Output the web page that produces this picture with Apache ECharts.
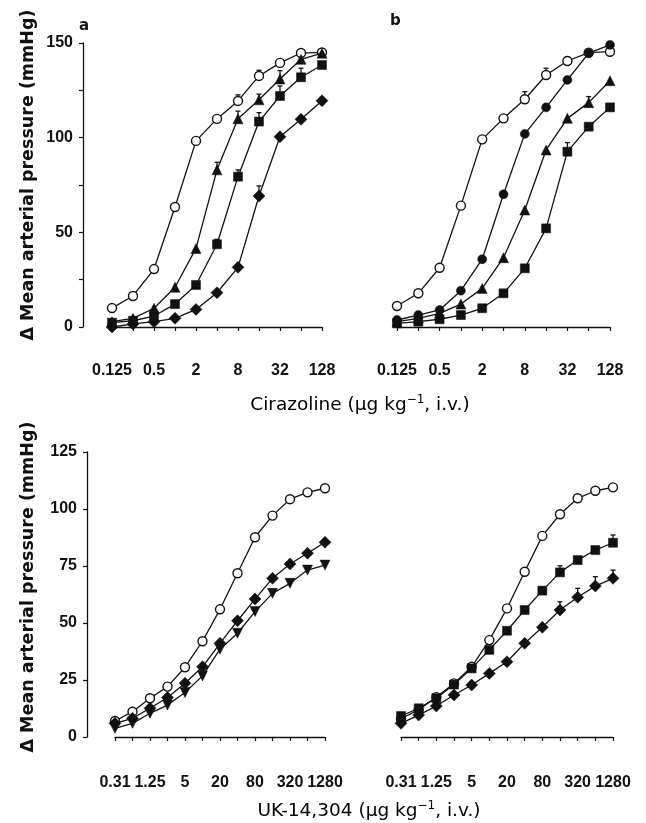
<!DOCTYPE html>
<html>
<head>
<meta charset="utf-8">
<script src="https://cdn.jsdelivr.net/npm/echarts@6/dist/echarts.min.js"></script>
<style>
  html, body { margin: 0; padding: 0; background: #fff; }
  #chart { width: 646px; height: 823px; }
</style>
</head>
<body>
<div id="chart"></div>
<script>
// doses (log2 spaced, shown as categories)
const topDoses = ['0.125', '0.25', '0.5', '1', '2', '4', '8', '16', '32', '64', '128'];
const bottomDoses = ['0.31', '0.63', '1.25', '2.5', '5', '10', '20', '40', '80', '160', '320', '640', '1280'];

// panel a - cirazoline
const aOpen = [10, 16.4, 30.6, 63.4, 98.3, 109.9, 119.4, 132.6, 139.5, 144.7, 145];
const aTriangle = [2.8, 4.6, 9.9, 21, 41.5, 83, 110, 120, 131, 141.4, 144.6];
const aSquare = [2.3, 3.3, 5.8, 12.1, 22.2, 43.7, 79.4, 108.5, 122, 131.9, 138.4];
const aDiamond = [0, 1.6, 2.8, 4.6, 9.3, 18.1, 31.5, 69.2, 100.5, 109.7, 119.5];
const aOpenErr = [0, 0, 0, 0, 0, 0, 3.2, 3, 0, 0, 0];
const aTriangleErr = [0, 0, 0, 0, 0, 4, 4, 3, 4.4, 1.5, 0];
const aSquareErr = [0, 0, 0, 0, 0, 2.6, 3.6, 4.7, 5.3, 4.8, 0];
const aDiamondErr = [0, 0, 0, 0, 0, 0, 0, 5.3, 0, 0, 0];

// panel b - cirazoline
const bOpen = [11.1, 17.8, 31.3, 64.1, 99.1, 110.2, 120.3, 133.1, 140.5, 144.9, 145.4];
const bCircle = [3.7, 6.3, 9, 19.2, 35.8, 70.1, 102, 116, 130.5, 144.6, 149];
const bTriangle = [2.8, 4.6, 7.2, 12.1, 20.4, 36.6, 61.8, 93.5, 110.2, 118.5, 130.1];
const bSquare = [1.9, 2.8, 4.1, 6.3, 9.9, 17.8, 31, 52.1, 92.6, 105.8, 116];
const bOpenErr = [0, 0, 0, 0, 0, 0, 4, 3.6, 2.3, 0, 0];
const bTriangleErr = [0, 0, 0, 0, 0, 0, 0, 0, 0, 3.2, 0];
const bSquareErr = [0, 0, 0, 0, 0, 0, 0, 0, 4.8, 0, 0];

// lower left - UK-14,304
const cOpen = [7, 11.1, 17, 22.1, 30.6, 42, 56, 71.8, 87.6, 97.1, 104.3, 107.3, 109.1];
const cDiamond = [6, 8.2, 12.6, 17.3, 23.6, 30.8, 41.1, 51, 60.5, 69.6, 75.9, 80.6, 85.4];
const cInvTriangle = [3.8, 6, 10.4, 14, 19.5, 26.8, 38.5, 45.5, 55, 63, 67.4, 73.2, 75.4];

// lower right - UK-14,304
const dOpen = [8, 12, 17.5, 23.5, 30.8, 42.5, 56.4, 72.5, 88.2, 97.7, 104.7, 108, 109.5];
const dSquare = [9.2, 12.6, 17, 23, 30.1, 38.2, 46.6, 55.7, 64.2, 72.2, 77.6, 82, 85.2];
const dDiamond = [6, 9.6, 13.6, 18.4, 22.8, 27.9, 33, 41.1, 48.1, 55.7, 61.3, 66.2, 69.6];
const dSquareErr = [0, 0, 0, 0, 0, 0, 0, 0, 0, 2.9, 0, 0, 3.4];
const dDiamondErr = [0, 0, 0, 0, 0, 0, 0, 0, 0, 3.6, 3.9, 4.1, 3.6];

const INK = '#111';
const FONT = 'DejaVu Sans';
const TICK_FONT = 'Liberation Sans';

function line(data, idx, symbol, size, open, rotate) {
    return {
        type: 'line',
        xAxisIndex: idx,
        yAxisIndex: idx,
        data: data,
        symbol: symbol,
        symbolSize: size,
        symbolRotate: rotate || 0,
        showAllSymbol: true,
        animation: false,
        lineStyle: { color: INK, width: 1.3 },
        itemStyle: { color: open ? '#fff' : INK, borderColor: INK, borderWidth: open ? 1.4 : 0.5 },
        z: open ? 3 : 4
    };
}

// upper error caps (only the part above the marker is visible)
function errBars(values, errs, idx) {
    return {
        type: 'custom',
        xAxisIndex: idx,
        yAxisIndex: idx,
        z: 2,
        data: values.map(function (v, i) { return [i, v, errs[i]]; }),
        renderItem: function (params, api) {
            const e = api.value(2);
            if (!e) return null;
            const base = api.coord([api.value(0), api.value(1)]);
            const top = api.coord([api.value(0), api.value(1) + e]);
            const st = { stroke: INK, lineWidth: 1.3 };
            return {
                type: 'group',
                children: [
                    { type: 'line', shape: { x1: base[0], y1: base[1], x2: top[0], y2: top[1] }, style: st },
                    { type: 'line', shape: { x1: top[0] - 2.5, y1: top[1], x2: top[0] + 2.5, y2: top[1] }, style: st }
                ]
            };
        }
    };
}

function xAxis(idx, cats, offset, margin) {
    return {
        type: 'category',
        gridIndex: idx,
        data: cats,
        boundaryGap: false,
        offset: offset,
        axisLine: { lineStyle: { color: INK, width: 1.3 } },
        axisTick: { interval: 0, length: 4, lineStyle: { color: INK, width: 1.2 } },
        axisLabel: { interval: 1, color: INK, fontFamily: TICK_FONT, fontSize: 16, fontWeight: 'bold', margin: margin },
        splitLine: { show: false }
    };
}

function yAxis(idx, max, show, offset, every) {
    return {
        type: 'value',
        gridIndex: idx,
        min: 0,
        max: max,
        interval: 25,
        show: show,
        offset: offset,
        axisLine: { show: true, lineStyle: { color: INK, width: 1.3 } },
        axisTick: { show: true, length: 4, lineStyle: { color: INK, width: 1.2 } },
        axisLabel: {
            color: INK, fontFamily: TICK_FONT, fontSize: 16, fontWeight: 'bold', margin: 10,
            formatter: function (v) { return v % every === 0 ? String(v) : ''; }
        },
        splitLine: { show: false }
    };
}

function supTitle(text, x, y) {
    return {
        type: 'text',
        x: x,
        y: y,
        style: {
            text: '{t|' + text + ' (μg kg}{s|−1}{t|, i.v.)}',
            align: 'center',
            verticalAlign: 'middle',
            rich: {
                t: { fontFamily: FONT, fontSize: 18.5, color: INK },
                s: { fontFamily: FONT, fontSize: 12, color: INK, padding: [0, 0, 10, 0] }
            }
        }
    };
}

const yName = 'Δ Mean arterial pressure (mmHg)';

const option = {
    backgroundColor: '#fff',
    animation: false,
    grid: [
        { left: 112, top: 43, width: 210, height: 284 },
        { left: 397, top: 43, width: 213, height: 284 },
        { left: 115, top: 452, width: 210, height: 285 },
        { left: 401, top: 452, width: 212, height: 285 }
    ],
    xAxis: [
        xAxis(0, topDoses, 26, 10),
        xAxis(1, topDoses, 24, 12),
        xAxis(2, bottomDoses, 26, 12),
        xAxis(3, bottomDoses, 24, 14)
    ],
    yAxis: [
        yAxis(0, 150, true, 29, 50),
        yAxis(1, 150, false, 0, 50),
        yAxis(2, 125, true, 28, 25),
        yAxis(3, 125, false, 0, 25)
    ],
    graphic: [
        { type: 'text', left: 79, top: 19, style: { text: 'a', fontFamily: FONT, fontSize: 15, fontWeight: 'bold', fill: INK } },
        { type: 'text', left: 390, top: 14, style: { text: 'b', fontFamily: FONT, fontSize: 15, fontWeight: 'bold', fill: INK } },
        { type: 'text', x: 28, y: 175, rotation: Math.PI / 2,
          style: { text: yName, fontFamily: FONT, fontSize: 17.5, fontWeight: 'bold', fill: INK, align: 'center', verticalAlign: 'middle' } },
        { type: 'text', x: 28, y: 587, rotation: Math.PI / 2,
          style: { text: yName, fontFamily: FONT, fontSize: 17.5, fontWeight: 'bold', fill: INK, align: 'center', verticalAlign: 'middle' } },
        supTitle('Cirazoline', 360, 405),
        supTitle('UK-14,304', 369, 811)
    ],
    series: [
        errBars(aOpen, aOpenErr, 0),
        errBars(aTriangle, aTriangleErr, 0),
        errBars(aSquare, aSquareErr, 0),
        errBars(aDiamond, aDiamondErr, 0),
        line(aOpen, 0, 'circle', 9, true),
        line(aDiamond, 0, 'diamond', 12, false),
        line(aSquare, 0, 'rect', 9, false),
        line(aTriangle, 0, 'triangle', 10, false),

        errBars(bOpen, bOpenErr, 1),
        errBars(bTriangle, bTriangleErr, 1),
        errBars(bSquare, bSquareErr, 1),
        line(bOpen, 1, 'circle', 9, true),
        line(bSquare, 1, 'rect', 9, false),
        line(bTriangle, 1, 'triangle', 10, false),
        line(bCircle, 1, 'circle', 9, false),

        line(cOpen, 2, 'circle', 9, true),
        line(cInvTriangle, 2, 'triangle', 10, false, 180),
        line(cDiamond, 2, 'diamond', 12, false),

        errBars(dSquare, dSquareErr, 3),
        errBars(dDiamond, dDiamondErr, 3),
        line(dOpen, 3, 'circle', 9, true),
        line(dDiamond, 3, 'diamond', 12, false),
        line(dSquare, 3, 'rect', 9, false)
    ]
};

function init() {
    const chart = echarts.init(document.getElementById('chart'), null, { renderer: 'canvas' });
    chart.setOption(option);
}

window.addEventListener('DOMContentLoaded', init);
</script>
</body>
</html>
